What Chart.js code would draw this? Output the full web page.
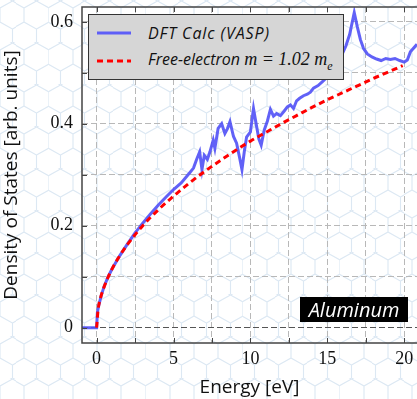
<!DOCTYPE html>
<html>
<head>
<meta charset="utf-8">
<script src="https://cdn.jsdelivr.net/npm/chart.js@4.4.1/dist/chart.umd.min.js"></script>
<style>
    html, body {
        margin: 0;
        padding: 0;
        overflow: hidden;
    }
    body {
        width: 417px;
        height: 399px;
        background-color: #fff;
        background-image: url("data:image/svg+xml;utf8,<svg xmlns='http://www.w3.org/2000/svg' width='24.25' height='42'><path d='M0 7V21L12.125 28V42M12.125 28L24.25 21V7M0 7L12.125 0L24.25 7' fill='none' stroke='%23dce8f3' stroke-width='1.1'/></svg>");
        background-size: 24.25px 42px;
        background-position: 0 0.5px;
    }
    #wrap {
        position: relative;
        width: 417px;
        height: 399px;
    }
    #legend {
        position: absolute;
        left: 88px;
        top: 14px;
        width: 256px;
        height: 66px;
        box-sizing: border-box;
        background: #d6d6d6;
        border: 1.5px solid #333;
        font-family: "Open Sans", sans-serif;
        font-style: italic;
        font-size: 16px;
        color: #111;
    }
    .item {
        position: absolute;
        left: 8px;
        height: 22px;
        display: flex;
        align-items: center;
        white-space: nowrap;
    }
    .item svg {
        margin-right: 17px;
    }
    .wide {
        letter-spacing: 0.9px;
    }
    .math {
        font-family: "Liberation Serif", serif;
        font-size: 18px;
    }
    .math sub {
        font-size: 12px;
    }
    #tag {
        position: absolute;
        left: 300px;
        top: 297px;
        width: 108px;
        height: 25px;
        background: #000;
        color: #fff;
        font-family: "Open Sans", sans-serif;
        font-style: italic;
        font-size: 20px;
        line-height: 25px;
        text-align: center;
    }
</style>
</head>
<body>
<div id="wrap">
    <canvas id="dosChart" width="417" height="399"></canvas>
    <div id="legend">
        <div class="item" style="top:7px">
            <svg width="34" height="6"><line x1="0" y1="3" x2="34" y2="3" stroke="#5e5ef7" stroke-width="3"/></svg>
            <span class="wide">DFT Calc (VASP)</span>
        </div>
        <div class="item" style="top:35px">
            <svg width="34" height="6"><line x1="0" y1="3" x2="34" y2="3" stroke="#ff0000" stroke-width="3" stroke-dasharray="6 4"/></svg>
            <span>Free-electron <span class="math"><i>m</i> = 1.02 <i>m</i><sub><i>e</i></sub></span></span>
        </div>
    </div>
    <div id="tag">Aluminum</div>
</div>
<script>
// DFT density of states (energy in eV, DOS in arb. units)
const dftEnergy = [-0.95, 0, 0.05, 0.15, 0.3, 0.5, 0.75, 1, 1.5, 2, 2.5, 3, 3.5, 4, 4.5, 5, 5.5, 6,
    6.3, 6.5, 6.7, 6.85, 7.0, 7.2, 7.37, 7.58, 7.69, 7.9, 8.13, 8.34, 8.5, 8.67, 8.9, 9.1, 9.3, 9.45,
    9.6, 9.75, 10.0, 10.2, 10.4, 10.55, 10.7, 10.9, 11.1, 11.3, 11.5, 11.7, 11.95, 12.2, 12.4, 12.6,
    12.8, 13.0, 13.2, 13.45, 13.7, 13.9, 14.1, 14.4, 14.7, 15.0, 15.3, 15.6, 15.9, 16.2, 16.45, 16.75,
    16.95, 17.15, 17.35, 17.6, 17.9, 18.2, 18.5, 18.8, 19.1, 19.4, 19.7, 20.0, 20.2, 20.4, 20.6, 20.83];
const dftDos = [0, 0, 0.03, 0.045, 0.063, 0.082, 0.1, 0.115, 0.141, 0.164, 0.186, 0.205, 0.223, 0.24, 0.256, 0.271, 0.284, 0.302,
    0.313, 0.33, 0.345, 0.31, 0.338, 0.33, 0.345, 0.368, 0.352, 0.391, 0.4, 0.381, 0.39, 0.404, 0.375, 0.362, 0.333, 0.31,
    0.345, 0.374, 0.384, 0.43, 0.395, 0.37, 0.358, 0.388, 0.405, 0.428, 0.415, 0.42, 0.416, 0.425, 0.433, 0.437,
    0.43, 0.445, 0.45, 0.455, 0.458, 0.462, 0.47, 0.475, 0.483, 0.492, 0.502, 0.515, 0.532, 0.552, 0.575, 0.618,
    0.59, 0.565, 0.548, 0.537, 0.531, 0.527, 0.524, 0.528, 0.526, 0.528, 0.524, 0.521, 0.525, 0.541, 0.548, 0.556];

// free-electron fit, m = 1.02 m_e
const freeEnergy = [0, 0.1, 0.25, 0.5, 1, 1.5, 2, 3, 4, 5, 6, 7, 8, 9, 10, 11, 12, 13, 14, 15, 16, 17, 18, 19, 19.9];
const freeDos = [0, 0.036, 0.058, 0.081, 0.115, 0.141, 0.163, 0.2, 0.231, 0.258, 0.283, 0.306, 0.327, 0.347, 0.366,
    0.383, 0.4, 0.416, 0.432, 0.447, 0.461, 0.475, 0.489, 0.502, 0.514];

const xTicks = [0, 2.5, 5, 7.5, 10, 12.5, 15, 17.5, 20];
const yTicks = [0, 0.1, 0.2, 0.3, 0.4, 0.5, 0.6];

const axisColor = "#444";
const tickFont = { family: "'Liberation Serif', serif", size: 18 };
const titleFont = { family: "'Open Sans', sans-serif", size: 19 };

// frame lines (left, bottom, top) and small inward tick marks
const framePlugin = {
    id: "frame",
    afterDraw(chart) {
        const { ctx, chartArea, scales } = chart;
        ctx.save();
        ctx.strokeStyle = axisColor;
        ctx.lineWidth = 1.5;
        ctx.beginPath();
        ctx.moveTo(chartArea.right, chartArea.top);
        ctx.lineTo(chartArea.left, chartArea.top);
        ctx.lineTo(chartArea.left, chartArea.bottom);
        ctx.lineTo(chartArea.right, chartArea.bottom);
        ctx.stroke();
        ctx.lineWidth = 1;
        ctx.beginPath();
        xTicks.forEach(v => {
            const px = Math.round(scales.x.getPixelForValue(v)) + 0.5;
            ctx.moveTo(px, chartArea.bottom);
            ctx.lineTo(px, chartArea.bottom - 5);
            ctx.moveTo(px, chartArea.top);
            ctx.lineTo(px, chartArea.top + 5);
        });
        yTicks.forEach(v => {
            const py = Math.round(scales.y.getPixelForValue(v)) + 0.5;
            ctx.moveTo(chartArea.left, py);
            ctx.lineTo(chartArea.left + 5, py);
        });
        ctx.stroke();
        ctx.restore();
    }
};

const canvas = document.getElementById("dosChart");

new Chart(canvas, {
    type: "line",
    data: {
        datasets: [{
            label: "Free-electron m = 1.02 m_e",
            data: freeEnergy.map((e, i) => ({ x: e, y: freeDos[i] })),
            borderColor: "#ff0000",
            borderWidth: 3,
            borderDash: [6, 4],
            pointRadius: 0,
            cubicInterpolationMode: "monotone",
            order: 1
        }, {
            label: "DFT Calc (VASP)",
            data: dftEnergy.map((e, i) => ({ x: e, y: dftDos[i] })),
            borderColor: "rgba(80, 80, 246, 0.9)",
            borderWidth: 3,
            pointRadius: 0,
            tension: 0,
            order: 2
        }]
    },
    options: {
        responsive: false,
        animation: false,
        layout: {
            padding: { top: 7, right: 0, left: 0, bottom: 0 }
        },
        plugins: {
            legend: { display: false },
            tooltip: { enabled: false }
        },
        scales: {
            x: {
                type: "linear",
                min: -0.95,
                max: 20.83,
                afterBuildTicks: scale => {
                    scale.ticks = xTicks.map(v => ({ value: v }));
                },
                afterFit: scale => {
                    scale.height = 56;
                    scale.paddingLeft = 0;
                    scale.paddingRight = 0;
                },
                ticks: {
                    font: tickFont,
                    color: "#111",
                    padding: 5,
                    maxRotation: 0,
                    autoSkip: false,
                    callback: v => (v % 5 === 0 ? String(v) : "")
                },
                grid: {
                    color: "#b8b8b8",
                    lineWidth: 1,
                    drawTicks: false
                },
                border: {
                    display: false,
                    dash: [6, 3]
                },
                title: {
                    display: true,
                    text: "Energy [eV]",
                    font: titleFont,
                    color: "#111",
                    padding: { top: 0, bottom: 0 }
                }
            },
            y: {
                type: "linear",
                min: -0.03,
                max: 0.629,
                afterBuildTicks: scale => {
                    scale.ticks = yTicks.map(v => ({ value: v }));
                },
                afterFit: scale => {
                    scale.width = 82;
                    scale.paddingTop = 0;
                    scale.paddingBottom = 0;
                },
                ticks: {
                    font: tickFont,
                    color: "#111",
                    padding: 9,
                    autoSkip: false,
                    callback: v => {
                        const r = Math.round(v * 10);
                        if (r % 2 !== 0) return "";
                        return r === 0 ? "0" : (r / 10).toFixed(1);
                    }
                },
                grid: {
                    color: ctx => (ctx.tick && ctx.tick.value === 0 ? "#555" : "#b8b8b8"),
                    lineWidth: 1,
                    drawTicks: false
                },
                border: {
                    display: false,
                    dash: [6, 3]
                },
                title: {
                    display: true,
                    text: "Density of States [arb. units]",
                    font: titleFont,
                    color: "#111",
                    padding: { top: 0, bottom: 6 }
                }
            }
        }
    },
    plugins: [framePlugin]
});
</script>
</body>
</html>
